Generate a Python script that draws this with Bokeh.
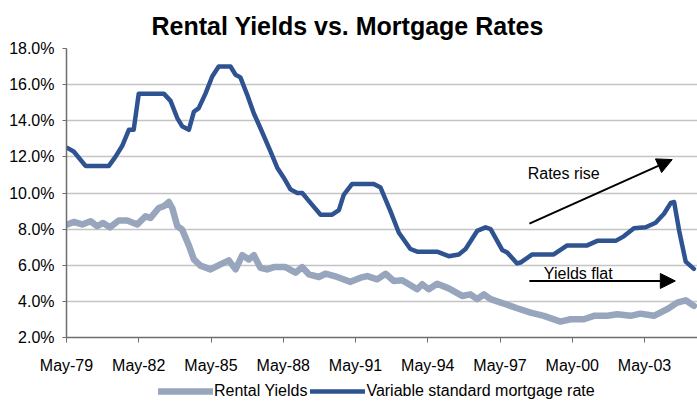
from bokeh.plotting import figure
from bokeh.layouts import column
from bokeh.models import (Range1d, FixedTicker, Legend, LegendItem, Arrow, NormalHead,
                          Label, Title)
from bokeh.embed import file_html
from bokeh.resources import INLINE

# ---- data (decimal years, percent) ----
mortgage_year = [1979.40, 1979.67, 1980.16, 1981.13, 1981.40, 1981.68, 1981.96, 1982.16,
                 1982.37, 1983.41, 1983.69, 1983.97, 1984.17, 1984.45, 1984.66, 1984.86,
                 1985.14, 1985.42, 1985.69, 1986.18, 1986.39, 1986.59, 1986.87, 1987.15,
                 1987.42, 1987.84, 1988.12, 1988.39, 1988.67, 1988.95, 1989.16, 1989.50,
                 1989.92, 1990.40, 1990.68, 1990.88, 1991.23, 1992.13, 1992.41, 1992.82,
                 1993.17, 1993.65, 1993.93, 1994.76, 1995.24, 1995.66, 1995.94, 1996.42,
                 1996.77, 1996.98, 1997.46, 1997.67, 1998.08, 1998.22, 1998.71, 1999.60,
                 2000.16, 2000.99, 2001.41, 2002.17, 2002.51, 2002.93, 2003.42, 2003.83,
                 2004.18, 2004.46, 2004.60, 2004.81, 2005.08, 2005.42]
mortgage_rate = [12.5, 12.3, 11.5, 11.5, 12.0, 12.6, 13.5, 13.5,
                 15.5, 15.5, 15.1, 14.15, 13.7, 13.5, 14.5, 14.7,
                 15.5, 16.45, 17.0, 17.0, 16.55, 16.4, 15.45, 14.4,
                 13.6, 12.3, 11.4, 10.85, 10.2, 10.0, 10.0, 9.45,
                 8.8, 8.8, 9.05, 9.9, 10.5, 10.5, 10.3, 9.0,
                 7.8, 6.9, 6.75, 6.75, 6.5, 6.6, 6.9, 7.9,
                 8.1, 8.0, 6.85, 6.7, 6.1, 6.15, 6.6, 6.6,
                 7.1, 7.1, 7.35, 7.35, 7.6, 8.05, 8.1, 8.35,
                 8.85, 9.45, 9.5, 7.9, 6.2, 5.8]

rental_year = [1979.40, 1979.67, 1980.02, 1980.37, 1980.64, 1980.89, 1981.17, 1981.54,
               1981.89, 1982.31, 1982.65, 1982.86, 1983.20, 1983.41, 1983.62, 1983.76,
               1983.97, 1984.17, 1984.45, 1984.66, 1984.93, 1985.35, 1985.76, 1986.11,
               1986.39, 1986.67, 1986.94, 1987.15, 1987.42, 1987.70, 1987.98, 1988.46,
               1988.88, 1989.16, 1989.43, 1989.85, 1990.12, 1990.61, 1991.16, 1991.58,
               1991.86, 1992.27, 1992.62, 1992.96, 1993.31, 1993.93, 1994.14, 1994.41,
               1994.76, 1995.24, 1995.80, 1996.14, 1996.42, 1996.70, 1996.98, 1997.53,
               1998.08, 1998.64, 1999.19, 1999.88, 2000.30, 2000.85, 2001.27, 2001.82,
               2002.24, 2002.79, 2003.20, 2003.76, 2004.31, 2004.73, 2005.08, 2005.42]
rental_yield = [8.25, 8.4, 8.26, 8.44, 8.16, 8.34, 8.1, 8.48,
                8.48, 8.26, 8.71, 8.62, 9.17, 9.27, 9.5, 9.17,
                8.16, 7.98, 7.1, 6.32, 5.98, 5.77, 6.05, 6.27,
                5.77, 6.56, 6.32, 6.56, 5.86, 5.77, 5.9, 5.9,
                5.59, 5.9, 5.5, 5.35, 5.53, 5.35, 5.08, 5.31,
                5.4, 5.22, 5.53, 5.13, 5.17, 4.67, 4.95, 4.67,
                4.98, 4.72, 4.3, 4.39, 4.12, 4.39, 4.12, 3.88,
                3.62, 3.38, 3.2, 2.88, 3.01, 3.01, 3.2, 3.2,
                3.29, 3.2, 3.32, 3.2, 3.57, 3.93, 4.06, 3.75]

x_tick_years = [1979.37 + 3 * i for i in range(9)]
x_tick_labels = ["May-79", "May-82", "May-85", "May-88", "May-91",
                 "May-94", "May-97", "May-00", "May-03"]
y_ticks = [2, 4, 6, 8, 10, 12, 14, 16, 18]
y_tick_labels = ["2.0%", "4.0%", "6.0%", "8.0%", "10.0%", "12.0%", "14.0%", "16.0%", "18.0%"]

series_names = ["Rental Yields", "Variable standard mortgage rate"]
title_text = "Rental Yields vs. Mortgage Rates"

# annotation anchors (data space)
rise_text = "Rates rise"
rise_text_pos = (1998.52, 11.10)
rise_arrow = (1998.59, 8.30, 2004.52, 11.85)
flat_text = "Yields flat"
flat_text_pos = (1999.19, 5.55)
flat_arrow = (1998.59, 5.13, 2004.65, 5.13)

FONT = "Liberation Sans"
DARK = "#2F5391"
LIGHT = "#97A6BD"
RENT_STYLE = dict(line_color=LIGHT, line_width=6.5, line_join="round", line_cap="round")
MORT_STYLE = dict(line_color=DARK, line_width=4.5, line_join="round", line_cap="round")

p = figure(width=697, height=381, output_backend="svg", toolbar_location=None,
           x_range=Range1d(1979.37, 2005.57), y_range=Range1d(2, 18),
           min_border_left=66, min_border_right=0, min_border_top=47, min_border_bottom=44)
p.outline_line_color = None
p.background_fill_color = "white"
p.border_fill_color = "white"

t = Title(text=title_text, text_font=FONT, text_font_size="25px", text_font_style="bold",
          text_color="black", align="left", offset=85, standoff=18)
p.add_layout(t, "above")

p.line(rental_year, rental_yield, **RENT_STYLE)
p.line(mortgage_year, mortgage_rate, **MORT_STYLE)

# axes
p.xaxis.ticker = FixedTicker(ticks=x_tick_years)
p.xaxis.major_label_overrides = dict(zip(x_tick_years, x_tick_labels))
p.yaxis.ticker = FixedTicker(ticks=y_ticks)
p.yaxis.major_label_overrides = dict(zip(y_ticks, y_tick_labels))
for ax in (p.xaxis, p.yaxis):
    ax.major_label_text_font = FONT
    ax.major_label_text_font_size = "16px"
    ax.major_label_text_color = "black"
    ax.axis_line_color = "#6E6E6E"
    ax.axis_line_width = 1.5
    ax.major_tick_line_color = "#6E6E6E"
    ax.minor_tick_line_color = None
    ax.major_tick_in = 0
p.yaxis.major_tick_out = 4
p.xaxis.major_tick_out = 5
p.yaxis.major_label_standoff = 8
p.xaxis.major_label_standoff = 14
p.xgrid.grid_line_color = None
p.ygrid.grid_line_color = "#C4C4C4"
p.ygrid.grid_line_width = 1.3

# annotations
p.add_layout(Arrow(end=NormalHead(size=15, fill_color="black", line_color="black"),
                   x_start=rise_arrow[0], y_start=rise_arrow[1],
                   x_end=rise_arrow[2], y_end=rise_arrow[3],
                   line_color="black", line_width=2))
p.add_layout(Arrow(end=NormalHead(size=15, fill_color="black", line_color="black"),
                   x_start=flat_arrow[0], y_start=flat_arrow[1],
                   x_end=flat_arrow[2], y_end=flat_arrow[3],
                   line_color="black", line_width=2))
p.add_layout(Label(x=rise_text_pos[0], y=rise_text_pos[1], text=rise_text,
                   text_font=FONT, text_font_size="16px", text_color="black",
                   text_baseline="alphabetic"))
p.add_layout(Label(x=flat_text_pos[0], y=flat_text_pos[1], text=flat_text,
                   text_font=FONT, text_font_size="16px", text_color="black",
                   text_baseline="alphabetic"))

# legend strip below the chart (its lines lie outside its own view; only the legend shows)
q = figure(width=697, height=20, output_backend="svg", toolbar_location=None,
           x_range=Range1d(0, 1), y_range=Range1d(0, 1),
           x_axis_type=None, y_axis_type=None,
           min_border_left=0, min_border_right=0, min_border_top=0, min_border_bottom=0)
q.outline_line_color = None
q.xgrid.grid_line_color = None
q.ygrid.grid_line_color = None
lr_rent = q.line(rental_year, rental_yield, **RENT_STYLE)
lr_mort = q.line(mortgage_year, mortgage_rate, **MORT_STYLE)
legend = Legend(items=[LegendItem(label=series_names[0], renderers=[lr_rent]),
                       LegendItem(label=series_names[1], renderers=[lr_mort])],
                orientation="horizontal", location=(92, 0),
                glyph_width=55, glyph_height=20, label_height=20, label_standoff=1, spacing=3,
                padding=0, margin=0, border_line_color=None, background_fill_alpha=0,
                label_text_font=FONT, label_text_font_size="16px", label_text_color="black")
q.add_layout(legend, "center")

layout = column(p, q, spacing=0)
open("out.html", "w").write(file_html(layout, INLINE))
